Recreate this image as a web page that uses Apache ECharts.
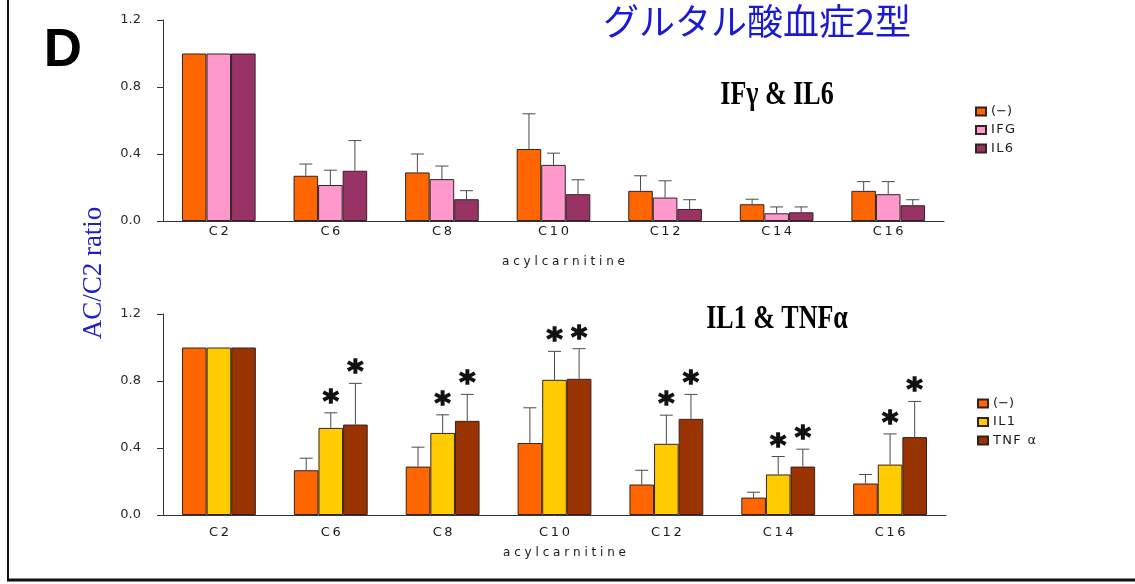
<!DOCTYPE html>
<html>
<head>
<meta charset="utf-8">
<script src="https://cdn.jsdelivr.net/npm/echarts@6/dist/echarts.min.js"></script>
<style>
  html, body { margin: 0; padding: 0; background: #ffffff; }
  #chart { width: 1135px; height: 584px; }
</style>
</head>
<body>
<div id="chart"></div>
<script>
// Acylcarnitine profiles (AC/C2 ratio, mean and SD) under cytokine stimulation
const categories = ['C2', 'C6', 'C8', 'C10', 'C12', 'C14', 'C16'];
const yTicks = [0, 0.4, 0.8, 1.2];

// Upper panel: IFγ & IL6
const topNames = ['(−)', 'IFG', 'IL6'];
const topCtrl = [1.0, 0.27, 0.29, 0.43, 0.18, 0.10, 0.18];
const topCtrlSd = [0, 0.07, 0.11, 0.21, 0.09, 0.03, 0.055];
const topIfg = [1.0, 0.215, 0.25, 0.335, 0.14, 0.046, 0.16];
const topIfgSd = [0, 0.088, 0.078, 0.07, 0.10, 0.038, 0.075];
const topIl6 = [1.0, 0.30, 0.13, 0.16, 0.072, 0.052, 0.094];
const topIl6Sd = [0, 0.18, 0.051, 0.086, 0.055, 0.032, 0.033];

// Lower panel: IL1 & TNFα (1 = significant vs. control)
const botNames = ['(−)', 'IL1', 'TNF α'];
const botCtrl = [1.0, 0.267, 0.289, 0.43, 0.182, 0.104, 0.188];
const botCtrlSd = [0, 0.072, 0.116, 0.21, 0.085, 0.032, 0.054];
const botIl1 = [1.0, 0.52, 0.49, 0.807, 0.425, 0.242, 0.301];
const botIl1Sd = [0, 0.09, 0.108, 0.17, 0.171, 0.107, 0.183];
const botTnf = [1.0, 0.54, 0.562, 0.813, 0.574, 0.289, 0.465];
const botTnfSd = [0, 0.246, 0.158, 0.18, 0.146, 0.104, 0.213];
const botIl1Sig = [0, 1, 1, 1, 1, 1, 1];
const botTnfSig = [0, 1, 1, 1, 1, 1, 1];

const topColors = ['#ff6600', '#ff99cc', '#993366'];
const botColors = ['#ff6600', '#ffcc00', '#993300'];

const GAP_FRAC = 0.34;
const spaced = (s, sep) => s.split('').join(sep);

function errorItems(groups) {
  const out = [];
  groups.forEach((g, k) => {
    g.values.forEach((v, i) => {
      out.push([i, k, v, g.sd[i], g.sig ? g.sig[i] : 0]);
    });
  });
  return out;
}

function renderError(params, api) {
  const ci = api.value(0), k = api.value(1), v = api.value(2);
  const sd = api.value(3), sig = api.value(4);
  const band = api.size([1, 0])[0];
  const bw = band * (1 - GAP_FRAC) / 3;
  const cx = api.coord([ci, 0])[0] + (k - 1) * bw;
  const yTop = api.coord([ci, v])[1];
  const yErr = api.coord([ci, v + sd])[1];
  const children = [];
  const line = { stroke: '#4a4a4a', lineWidth: 1 };
  if (sd > 0) {
    children.push({ type: 'line', shape: { x1: cx, y1: yTop, x2: cx, y2: yErr }, style: line });
    children.push({ type: 'line', shape: { x1: cx - 6.5, y1: yErr, x2: cx + 6.5, y2: yErr }, style: line });
  }
  if (sig) {
    children.push({
      type: 'text', x: cx, y: yErr - 10,
      style: { text: '*', fill: '#111111', stroke: '#111111', lineWidth: 1.4,
               fontSize: 31, fontWeight: 'bold', fontFamily: 'DejaVu Sans',
               align: 'center', verticalAlign: 'middle' }
    });
  }
  return { type: 'group', children };
}

function xAxisFor(gridIndex, labelMargin, nameGap) {
  return {
    type: 'category', gridIndex, data: categories,
    axisLine: { lineStyle: { color: '#333333', width: 1 } },
    axisTick: { inside: true, length: 3, lineStyle: { color: '#333333' } },
    axisLabel: { margin: labelMargin, color: '#1a1a1a', fontSize: 13, fontFamily: 'DejaVu Sans',
                 formatter: v => spaced(v, '\u2009') },
    name: spaced('acylcarnitine', ' '), nameLocation: 'middle', nameGap,
    nameTextStyle: { color: '#1a1a1a', fontSize: 12, fontFamily: 'DejaVu Sans', padding: [0, 0, 0, 20] }
  };
}

function yAxisFor(gridIndex) {
  return {
    type: 'value', gridIndex, min: yTicks[0], max: yTicks[yTicks.length - 1],
    interval: yTicks[1] - yTicks[0],
    splitLine: { show: false },
    axisLine: { show: true, lineStyle: { color: '#333333', width: 1 } },
    axisTick: { show: true, length: 6, lineStyle: { color: '#333333' } },
    axisLabel: { margin: 22, color: '#2a2a2a', fontSize: 13, fontFamily: 'DejaVu Sans',
                 formatter: v => v.toFixed(1) }
  };
}

function barSeries(name, data, color, axisIndex) {
  return {
    type: 'bar', name, data, xAxisIndex: axisIndex, yAxisIndex: axisIndex,
    barGap: '0%', barCategoryGap: (GAP_FRAC * 100) + '%',
    itemStyle: { color, borderColor: '#332222', borderWidth: 1 },
    emphasis: { disabled: true }
  };
}

const legendText = { color: '#1a1a1a', fontSize: 13, fontFamily: 'DejaVu Sans', lineHeight: 13 };
const legendLabel = n => (/^[A-Za-z0-9 α]+$/.test(n) ? spaced(n, '\u200a') : n);

const option = {
  animation: false,
  backgroundColor: '#ffffff',
  grid: [
    { left: 163, top: 20, width: 781, height: 201 },
    { left: 163, top: 314, width: 783, height: 201 }
  ],
  xAxis: [xAxisFor(0, 4, 35), xAxisFor(1, 11, 32)],
  yAxis: [yAxisFor(0), yAxisFor(1)],
  legend: [
    { data: topNames, orient: 'vertical', left: 970, top: 100, itemWidth: 10, itemHeight: 8,
      itemGap: 5.5, icon: 'rect', textStyle: legendText, selectedMode: false,
      formatter: legendLabel },
    { data: botNames, orient: 'vertical', left: 972, top: 392, itemWidth: 10, itemHeight: 8,
      itemGap: 5.5, icon: 'rect', textStyle: legendText, selectedMode: false,
      formatter: legendLabel }
  ],
  graphic: [
    { type: 'line', shape: { x1: 8, y1: 0, x2: 8, y2: 581 }, style: { stroke: '#111111', lineWidth: 2 } },
    { type: 'line', shape: { x1: 7, y1: 580, x2: 1135, y2: 580 }, style: { stroke: '#111111', lineWidth: 3 } },
    { type: 'text', x: 63, y: 51.5,
      style: { text: 'D', fontSize: 53, fontWeight: 'bold', fontFamily: 'Liberation Sans',
               fill: '#000000', align: 'center', verticalAlign: 'middle' } },
    { type: 'text', x: 757, y: 21.5,
      style: { text: 'グルタル酸血症2型', fontSize: 36, fontFamily: 'Noto Sans CJK JP',
               fill: '#1a1ad0', align: 'center', verticalAlign: 'middle' } },
    { type: 'text', x: 777, y: 95, scaleY: 1.28,
      style: { text: 'IFγ & IL6', fontSize: 26, fontWeight: 'bold', fontFamily: 'Liberation Serif',
               fill: '#000000', align: 'center', verticalAlign: 'middle' } },
    { type: 'text', x: 777, y: 319, scaleY: 1.28,
      style: { text: 'IL1 & TNFα', fontSize: 26, fontWeight: 'bold', fontFamily: 'Liberation Serif',
               fill: '#000000', align: 'center', verticalAlign: 'middle' } },
    { type: 'text', x: 94, y: 273, rotation: Math.PI / 2,
      style: { text: 'AC/C2 ratio', fontSize: 27, fontFamily: 'Liberation Serif',
               fill: '#2020c4', align: 'center', verticalAlign: 'middle' } }
  ],
  series: [
    barSeries(topNames[0], topCtrl, topColors[0], 0),
    barSeries(topNames[1], topIfg, topColors[1], 0),
    barSeries(topNames[2], topIl6, topColors[2], 0),
    {
      type: 'custom', xAxisIndex: 0, yAxisIndex: 0, z: 5, silent: true,
      renderItem: renderError,
      data: errorItems([
        { values: topCtrl, sd: topCtrlSd },
        { values: topIfg, sd: topIfgSd },
        { values: topIl6, sd: topIl6Sd }
      ])
    },
    barSeries(botNames[0], botCtrl, botColors[0], 1),
    barSeries(botNames[1], botIl1, botColors[1], 1),
    barSeries(botNames[2], botTnf, botColors[2], 1),
    {
      type: 'custom', xAxisIndex: 1, yAxisIndex: 1, z: 5, silent: true,
      renderItem: renderError,
      data: errorItems([
        { values: botCtrl, sd: botCtrlSd },
        { values: botIl1, sd: botIl1Sd, sig: botIl1Sig },
        { values: botTnf, sd: botTnfSd, sig: botTnfSig }
      ])
    }
  ]
};

const chart = echarts.init(document.getElementById('chart'), null, { renderer: 'canvas' });
chart.setOption(option);
</script>
</body>
</html>
